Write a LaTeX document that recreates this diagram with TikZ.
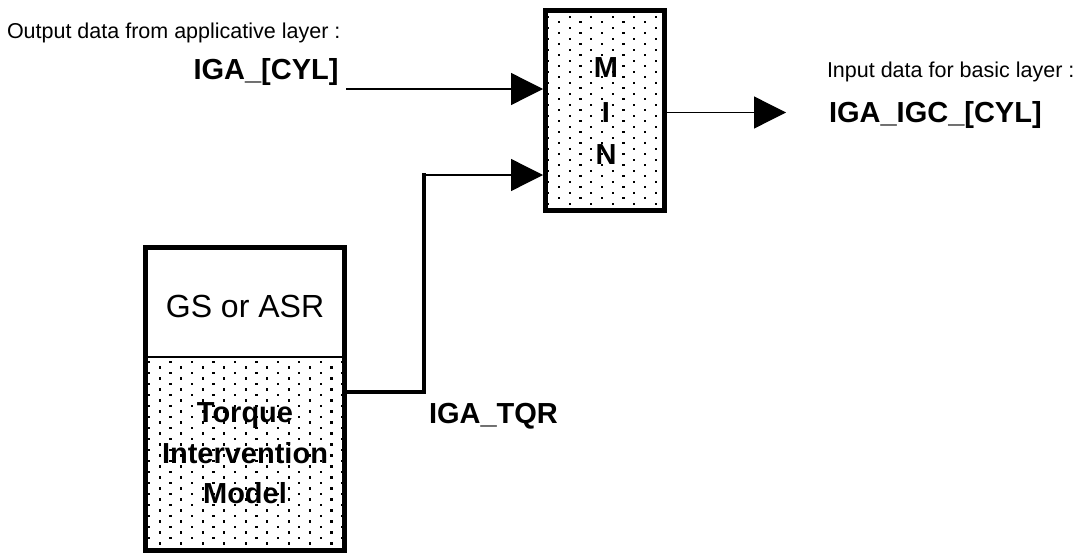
\documentclass[tikz,border=0pt]{standalone}
\usepackage{fontspec}
\setmainfont{Liberation Sans}
\usetikzlibrary{arrows.meta}
\begin{document}
\begin{tikzpicture}[x=1pt,y=-1pt,
  heavybox/.style={draw, rectangle, line width=5pt, outer sep=2.5pt, inner sep=0pt},
  txt/.style={inner sep=0pt, outer sep=0pt},
  smalltxt/.style={txt, font=\fontsize{21.5}{25}\selectfont},
  boldtxt/.style={txt, font=\bfseries\fontsize{29}{34}\selectfont},
  bigtxt/.style={txt, font=\fontsize{32}{38}\selectfont},
  signal/.style={line width=1.3pt, -{Triangle[length=32pt,width=32pt]}},
  heavyline/.style={line width=3.3pt, line cap=rect, line join=miter},
  dotmark/.style={fill=black}
]
\useasboundingbox (0,0) rectangle (1083,554);

% boxes
\node[heavybox, minimum width=119pt, minimum height=199.4pt] (minbox) at (605,110.5) {};
\node[heavybox, minimum width=199pt, minimum height=303pt] (leftbox) at (245,399) {};

% dots in MIN box
\begin{scope}
  \clip (548,13.3) rectangle (662,207.7);
  \foreach \j in {0,...,18} {
    \foreach \i in {0,...,5} {
      \fill[dotmark, shift={(548.3+\i*21.48,16.7+\j*11)}] (-1.1,-1.1) rectangle (1.1,1.1);
      \fill[dotmark, shift={(559.04+\i*21.48,22.2+\j*11)}] (-1.1,-1.1) rectangle (1.1,1.1);
    }
  }
\end{scope}

% dots in lower part of left box
\begin{scope}
  \clip (148,358) rectangle (342,548);
  \foreach \j in {0,...,18} {
    \foreach \i in {0,...,9} {
      \fill[dotmark, shift={(149+\i*21.48,362+\j*11)}] (-1.1,-1.1) rectangle (1.1,1.1);
      \fill[dotmark, shift={(159.74+\i*21.48,367.5+\j*11)}] (-1.1,-1.1) rectangle (1.1,1.1);
    }
  }
\end{scope}

% divider
\coordinate (divy) at (0,357);
\draw[line width=2pt] (leftbox.west |- divy) -- (leftbox.east |- divy);

% texts
\node[smalltxt, anchor=base west] (outlbl) at (7,38.5) {Output data from applicative layer :};
\node[boldtxt, anchor=base east] (cyllbl) at (338.5,79) {IGA\_[CYL]};
\node[smalltxt, anchor=base west] (inlbl) at (827,77) {Input data for basic layer :};
\node[boldtxt, anchor=base west] (igclbl) at (829,122) {IGA\_IGC\_[CYL]};
\node[boldtxt, anchor=base west] (tqrlbl) at (429,423) {IGA\_TQR};

\node[bigtxt, anchor=base] (gslbl) at (245,317) {GS or ASR};
\node[boldtxt, anchor=base] (tq1) at (245,422) {Torque};
\node[boldtxt, anchor=base] (tq2) at (245,463) {Intervention};
\node[boldtxt, anchor=base] (tq3) at (245,503) {Model};

\node[boldtxt, anchor=base] (minM) at (606,77) {M};
\node[boldtxt, anchor=base] (minI) at (606,122) {I};
\node[boldtxt, anchor=base] (minN) at (606,164) {N};

% connectors
\coordinate (in1start) at (346,89);
\draw[signal] (in1start) -- (in1start -| minbox.west);

\coordinate (tqrknee) at (424,392);
\coordinate (tqrtop) at (424,175);
\draw[heavyline] (tqrknee -| leftbox.east) -- (tqrknee) -- (tqrtop);
\draw[signal] (tqrtop) -- (tqrtop -| minbox.west);

\coordinate (outend) at (786,112.5);
\draw[signal] (outend -| minbox.east) -- (outend);
\end{tikzpicture}
\end{document}
